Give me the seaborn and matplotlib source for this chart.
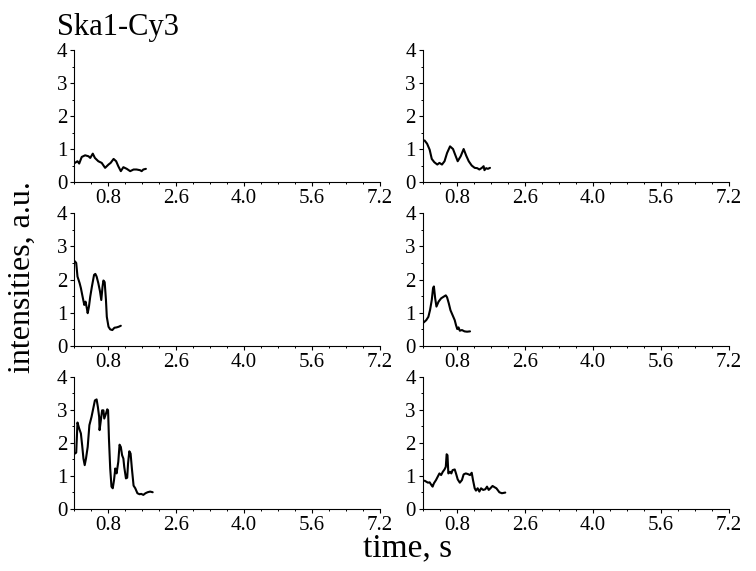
import numpy as np
import pandas as pd
import matplotlib
matplotlib.use("Agg")
import matplotlib.pyplot as plt
import seaborn as sns

# traces (time, intensity)
t_a = [0.02, 0.08, 0.12, 0.18, 0.26, 0.34, 0.38, 0.44, 0.49, 0.57, 0.65, 0.73, 0.81, 0.86,
       0.93, 0.99, 1.04, 1.10, 1.16, 1.24, 1.32, 1.40, 1.47, 1.55, 1.59, 1.63, 1.69]
i_a = [0.59, 0.64, 0.57, 0.77, 0.82, 0.79, 0.74, 0.87, 0.74, 0.64, 0.59, 0.44, 0.54, 0.59,
       0.71, 0.64, 0.49, 0.34, 0.46, 0.41, 0.34, 0.39, 0.39, 0.37, 0.34, 0.39, 0.41]

t_b = [0.04, 0.10, 0.16, 0.21, 0.27, 0.34, 0.39, 0.45, 0.51, 0.57, 0.64, 0.71, 0.76, 0.82,
       0.89, 0.96, 1.02, 1.08, 1.15, 1.22, 1.28, 1.33, 1.39, 1.43, 1.45, 1.49, 1.53, 1.58]
i_b = [1.27, 1.17, 0.99, 0.71, 0.61, 0.54, 0.59, 0.54, 0.64, 0.89, 1.09, 1.01, 0.84, 0.64,
       0.79, 1.01, 0.81, 0.64, 0.51, 0.44, 0.43, 0.39, 0.44, 0.49, 0.37, 0.43, 0.41, 0.44]

t_c = [0.02, 0.05, 0.08, 0.13, 0.16, 0.20, 0.24, 0.27, 0.30, 0.32, 0.35, 0.38, 0.42, 0.47,
       0.50, 0.53, 0.57, 0.61, 0.64, 0.67, 0.69, 0.72, 0.75, 0.77, 0.81, 0.85, 0.90, 0.95,
       1.00, 1.05, 1.10]
i_c = [2.55, 2.50, 2.09, 1.89, 1.74, 1.48, 1.23, 1.33, 1.13, 0.98, 1.18, 1.48, 1.79, 2.14,
       2.17, 2.09, 1.89, 1.64, 1.38, 1.79, 1.97, 1.92, 1.38, 0.87, 0.57, 0.49, 0.47, 0.54,
       0.55, 0.57, 0.60]

t_d = [0.02, 0.08, 0.13, 0.17, 0.21, 0.24, 0.26, 0.29, 0.32, 0.37, 0.43, 0.49, 0.54, 0.57,
       0.61, 0.65, 0.70, 0.75, 0.78, 0.81, 0.84, 0.87, 0.92, 0.98, 1.04, 1.11]
i_d = [0.70, 0.77, 0.87, 1.08, 1.38, 1.74, 1.79, 1.43, 1.18, 1.33, 1.43, 1.48, 1.52, 1.46,
       1.28, 1.07, 0.92, 0.77, 0.62, 0.50, 0.55, 0.45, 0.47, 0.43, 0.42, 0.43]

t_e = [0.02, 0.05, 0.08, 0.12, 0.16, 0.19, 0.22, 0.25, 0.28, 0.32, 0.36, 0.41, 0.45, 0.49,
       0.53, 0.56, 0.59, 0.60, 0.63, 0.66, 0.69, 0.71, 0.75, 0.78, 0.80, 0.82, 0.85, 0.88,
       0.91, 0.94, 0.97, 1.00, 1.04, 1.07, 1.10, 1.13, 1.16, 1.18, 1.22, 1.25, 1.27, 1.30,
       1.33, 1.36, 1.40, 1.44, 1.49, 1.54, 1.58, 1.63, 1.68, 1.73, 1.79, 1.85]
i_e = [1.67, 1.70, 2.61, 2.43, 2.28, 1.92, 1.52, 1.32, 1.52, 1.87, 2.53, 2.78, 3.03, 3.28,
       3.31, 3.08, 2.78, 2.38, 2.68, 2.98, 2.98, 2.73, 2.88, 3.01, 2.98, 2.13, 1.22, 0.67,
       0.62, 0.87, 1.22, 1.07, 1.42, 1.94, 1.87, 1.62, 1.52, 1.27, 0.92, 0.94, 1.37, 1.74,
       1.67, 1.22, 0.70, 0.62, 0.47, 0.44, 0.45, 0.42, 0.47, 0.50, 0.52, 0.50]

t_f = [0.04, 0.08, 0.12, 0.16, 0.20, 0.23, 0.26, 0.31, 0.35, 0.39, 0.43, 0.47, 0.51, 0.54,
       0.56, 0.58, 0.60, 0.64, 0.67, 0.70, 0.75, 0.78, 0.82, 0.87, 0.92, 0.96, 1.01, 1.06,
       1.11, 1.15, 1.18, 1.22, 1.25, 1.29, 1.33, 1.37, 1.42, 1.47, 1.51, 1.55, 1.59, 1.64,
       1.69, 1.73, 1.76, 1.80, 1.86, 1.94]
i_f = [0.85, 0.82, 0.79, 0.80, 0.72, 0.67, 0.77, 0.87, 0.97, 1.07, 1.02, 1.12, 1.19, 1.27,
       1.65, 1.62, 1.07, 1.12, 1.07, 1.17, 1.19, 1.07, 0.89, 0.79, 0.87, 1.04, 1.07, 1.05,
       1.02, 1.09, 0.87, 0.62, 0.55, 0.62, 0.52, 0.62, 0.57, 0.59, 0.67, 0.57, 0.62, 0.69,
       0.65, 0.62, 0.57, 0.50, 0.47, 0.49]

x_ticks = [0.8, 2.4, 4.0, 5.6, 7.2]
x_ticklabels = ["0.8", "2.6", "4.0", "5.6", "7.2"]
y_ticks = [0, 1, 2, 3, 4]

sns.set_theme(style="ticks")
plt.rcParams["font.family"] = ["Liberation Serif", "DejaVu Serif"]
plt.rcParams["text.color"] = "black"

fig, axes = plt.subplots(3, 2, figsize=(7.56, 5.71), dpi=100)
fig.subplots_adjust(left=0.098, right=0.964, top=0.912, bottom=0.109, wspace=0.14, hspace=0.235)

traces = [(t_a, i_a), (t_b, i_b), (t_c, i_c), (t_d, i_d), (t_e, i_e), (t_f, i_f)]

for ax, (t, v) in zip(axes.flat, traces):
    df = pd.DataFrame({"time": t, "intensity": v})
    sns.lineplot(data=df, x="time", y="intensity", ax=ax, color="black",
                 linewidth=1.5, sort=False, estimator=None)
    ax.set_xlim(0, 7.2)
    ax.set_ylim(0, 4)
    ax.set_xticks(x_ticks)
    ax.set_xticklabels(x_ticklabels)
    ax.set_xticks(np.arange(0, 7.21, 0.4), minor=True)
    ax.set_yticks(y_ticks)
    ax.set_yticks(np.arange(0, 4.01, 0.5), minor=True)
    ax.tick_params(which="major", direction="out", length=3, width=0.8, pad=2,
                   labelsize=15, colors="black")
    ax.tick_params(which="minor", direction="out", length=1.5, width=0.7, colors="black")
    ax.set_xlabel("")
    ax.set_ylabel("")
    for s in ["left", "bottom"]:
        ax.spines[s].set_linewidth(0.8)
        ax.spines[s].set_color("black")
    sns.despine(ax=ax)

fig.text(0.076, 0.939, "Ska1-Cy3", fontsize=22, va="baseline", ha="left", color="black")
fig.text(0.03, 0.515, "intensities, a.u.", fontsize=23, rotation=90, va="center", ha="center",
         color="black")
fig.text(0.539, 0.025, "time, s", fontsize=24, va="baseline", ha="center", color="black")

fig.savefig("out.png", dpi=100)
